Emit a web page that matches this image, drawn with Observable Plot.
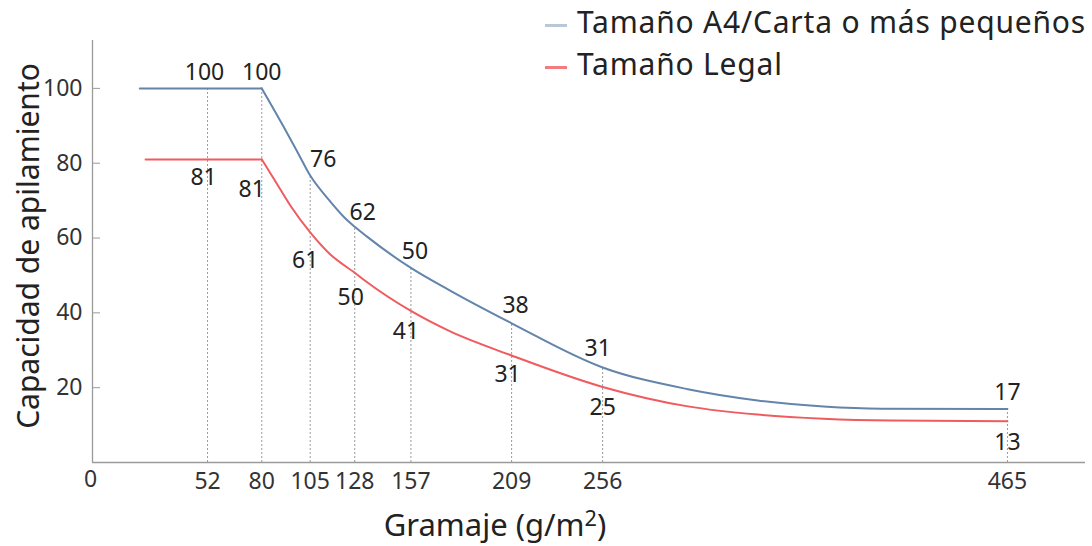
<!DOCTYPE html>
<html>
<head>
<meta charset="utf-8">
<script src="https://cdn.jsdelivr.net/npm/d3@7"></script>
<script src="https://cdn.jsdelivr.net/npm/@observablehq/plot@0.6"></script>
<style>
  html, body { margin: 0; padding: 0; background: #fff; }
  body { font-family: "Noto Sans", "Open Sans", sans-serif; color: #222; }
  #wrap { position: relative; width: 1092px; height: 546px; overflow: hidden; }
  #chart svg { display: block; }
  .legend-row { position: absolute; left: 545px; height: 30px; line-height: 30px; font-size: 30px; letter-spacing: 0.8px; white-space: nowrap; }
  .legend-row .sw { position: absolute; left: 0; width: 22px; height: 3px; }
  .legend-row .lt { position: absolute; left: 32px; top: 0; }
  #xtitle { position: absolute; left: 495px; top: 509px; transform: translateX(-50%); font-size: 31px; line-height: 31px; white-space: nowrap; }
  #xtitle .sup { font-size: 0.7em; position: relative; top: -0.45em; }
  #ytitle { position: absolute; left: 28px; top: 246px; transform: translate(-50%, -50%) rotate(-90deg); font-size: 30px; line-height: 30px; white-space: nowrap; }
</style>
</head>
<body>
<div id="wrap">
  <div id="chart"></div>
  <div class="legend-row" style="top:6.5px"><div class="sw" style="top:17px;background:#b9c8d9"></div><div class="lt">Tamaño A4/Carta o más pequeños</div></div>
  <div class="legend-row" style="top:48.5px"><div class="sw" style="top:17px;background:#f27c80"></div><div class="lt">Tamaño Legal</div></div>
  <div id="xtitle">Gramaje (g/m<span class="sup">2</span>)</div>
  <div id="ytitle">Capacidad de apilamiento</div>
</div>
<script>
// ---- data ----
const seriesNames = ["Tamaño A4/Carta o más pequeños", "Tamaño Legal"];
const seriesColors = ["#6384ab", "#ef5b5f"];

const gsmTicks = [52, 80, 105, 128, 157, 209, 256, 465];
const yTicks = [20, 40, 60, 80, 100];

// printed values at each gramaje
const labelsA4 = [100, 100, 76, 62, 50, 38, 31, 17];
const labelsLegal = [81, 81, 61, 50, 41, 31, 25, 13];

// drawn curves (gramaje, capacity)
const a4Gsm = [17, 52, 80, 91, 98, 105, 115, 124, 128, 134, 157, 177, 209, 256, 300, 336, 370, 400, 465];
const a4Cap = [100, 100, 100, 90, 83.4, 76.7, 70, 64.8, 63, 60.5, 52, 46, 37.2, 25.4, 19.6, 16.6, 15, 14.4, 14.3];
const legalGsm = [20, 52, 80, 87, 95, 105, 115, 128, 133, 157, 177, 209, 256, 300, 336, 370, 405, 465];
const legalCap = [81, 81, 81, 75.2, 68.5, 61.5, 55.8, 50.7, 48.7, 40.5, 35.1, 28.6, 20.2, 15, 12.8, 11.7, 11.2, 11];

const xDomain = [-7.4, 505.3];
const yDomain = [0, 112.8];

// ---- build tables ----
function rowsFor(name, gsm, cap) {
  const rows = [];
  gsm.forEach((g, i) => {
    if (g <= 80) rows.push({series: name, seg: "flat", gsm: g, cap: cap[i]});
    if (g >= 80) rows.push({series: name, seg: "curve", gsm: g, cap: cap[i]});
  });
  return rows;
}
const lineRows = [
  ...rowsFor(seriesNames[0], a4Gsm, a4Cap),
  ...rowsFor(seriesNames[1], legalGsm, legalCap)
];
const capAt = (gsm, cap, g) => cap[gsm.indexOf(g)];

// small label nudges (pixels) to keep numbers clear of the curves
const nudgeA4 = {52: [-3, 0], 105: [13, 0], 128: [8, 2], 157: [4, 0], 209: [4, -2], 256: [-5, -3]};
const nudgeLegal = {52: [-4, -3], 80: [-10, 9], 105: [-5, 7], 128: [-4, 4], 157: [-5, 0], 209: [-4, -2]};

const labelMarks = [];
gsmTicks.forEach((g, i) => {
  const na = nudgeA4[g] || [0, 0];
  labelMarks.push(Plot.text([g], {
    x: d => d, y: d => capAt(a4Gsm, a4Cap, d), text: () => String(labelsA4[i]),
    dx: na[0], dy: -16 + na[1], fontSize: 23, fill: "#222"
  }));
  const nl = nudgeLegal[g] || [0, 0];
  labelMarks.push(Plot.text([g], {
    x: d => d, y: d => capAt(legalGsm, legalCap, d), text: () => String(labelsLegal[i]),
    dx: nl[0], dy: 21 + nl[1], fontSize: 23, fill: "#222"
  }));
});

const chart = Plot.plot({
  width: 1092,
  height: 546,
  marginLeft: 92,
  marginRight: 7,
  marginTop: 40,
  marginBottom: 84,
  style: {fontFamily: "Noto Sans, Open Sans, sans-serif", background: "#fff", color: "#222"},
  x: {domain: xDomain, label: null},
  y: {domain: yDomain, label: null},
  color: {domain: seriesNames, range: seriesColors},
  marks: [
    Plot.ruleX(gsmTicks, {x: d => d, y1: 0, y2: d => capAt(a4Gsm, a4Cap, d), stroke: "#9a9a9a", strokeDasharray: "2,2", strokeWidth: 1}),
    Plot.ruleY([0], {stroke: "#9a9a9a", strokeWidth: 1.3}),
    Plot.ruleX([xDomain[0]], {stroke: "#9a9a9a", strokeWidth: 1.3}),
    Plot.axisY(yTicks, {tickSize: -8, tickPadding: 18, fontSize: 23, stroke: "#9a9a9a", fill: "#333", label: null}),
    Plot.axisX(gsmTicks, {tickSize: 0, tickPadding: 10, fontSize: 23, fill: "#333", label: null}),
    Plot.text(["0"], {x: xDomain[0], y: 0, text: d => d, dx: -2, dy: 17, fontSize: 23, fill: "#333"}),
    Plot.line(lineRows, {x: "gsm", y: "cap", z: d => d.series + "|" + d.seg, stroke: "series", curve: "monotone-x", strokeWidth: 2}),
    ...labelMarks
  ]
});
document.getElementById("chart").appendChild(chart);
</script>
</body>
</html>
